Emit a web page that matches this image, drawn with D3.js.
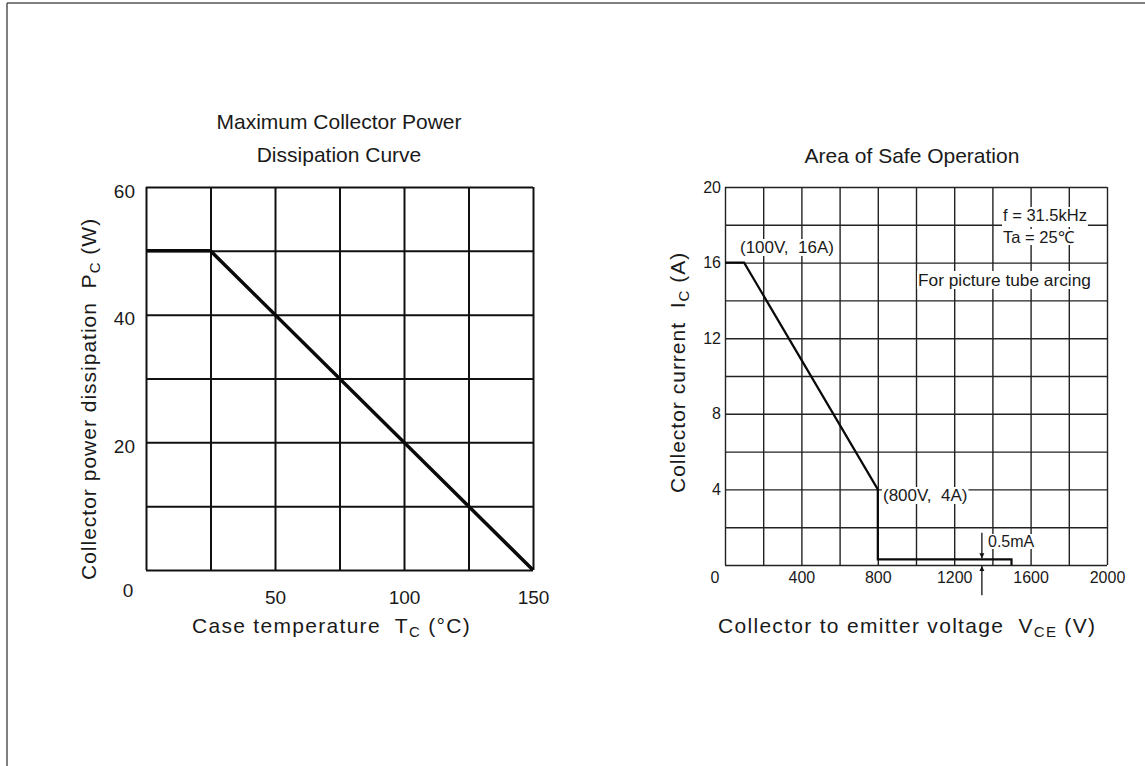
<!DOCTYPE html>
<html>
<head>
<meta charset="utf-8">
<script src="https://cdn.jsdelivr.net/npm/d3@7"></script>
<style>
  html, body { margin: 0; padding: 0; background: #fff; }
  svg { display: block; }
  text { fill: #1a1a1a; font-family: "Liberation Sans", Arial, sans-serif; white-space: pre; }
</style>
</head>
<body>
<svg id="chart" width="1145" height="766"></svg>
<script>
// ---------- data ----------
// Left chart: maximum collector power dissipation
const tempC = [0, 25, 150];          // case temperature (°C)
const powerW = [50, 50, 0];          // collector power dissipation (W)
const pcGridX = [0, 25, 50, 75, 100, 125, 150];
const pcGridY = [0, 10, 20, 30, 40, 50, 60];
const pcTickX = [50, 100, 150];
const pcTickY = [20, 40, 60];

// Right chart: area of safe operation
const vceV = [0, 100, 800, 800, 1500, 1500];   // collector-emitter voltage (V)
const icA  = [16, 16, 4, 0.3, 0.3, 0];          // collector current (A)
const soaGridX = [0, 200, 400, 600, 800, 1000, 1200, 1400, 1600, 1800, 2000];
const soaGridY = [0, 2, 4, 6, 8, 10, 12, 14, 16, 18, 20];
const soaTickX = [400, 800, 1200, 1600, 2000];
const soaTickY = [4, 8, 12, 16, 20];

const svg = d3.select("#chart");

// page frame (top and left edges of the scanned sheet)
svg.append("line").attr("x1", 7).attr("y1", 3).attr("x2", 1145).attr("y2", 3)
  .attr("stroke", "#555").attr("stroke-width", 1.5);
svg.append("line").attr("x1", 7).attr("y1", 3).attr("x2", 7).attr("y2", 766)
  .attr("stroke", "#555").attr("stroke-width", 1.5);

// ---------- helpers ----------
function labelWithBg(g, x, y, str, size, padBottom) {
  const grp = g.append("g");
  const rect = grp.append("rect").attr("fill", "#fff");
  const t = grp.append("text").attr("x", x).attr("y", y)
    .attr("font-size", size).text(str);
  const b = t.node().getBBox();
  const pb = padBottom || 0;
  rect.attr("x", b.x - 1).attr("y", b.y + 1).attr("width", b.width + 2).attr("height", b.height - 2 + pb);
  return t;
}

// ---------- left chart ----------
const xT = d3.scaleLinear().domain([0, 150]).range([146, 533]);
const yP = d3.scaleLinear().domain([0, 60]).range([570, 187]);
const gL = svg.append("g");

gL.append("g").attr("transform", `translate(0,${yP(0)})`)
  .call(d3.axisBottom(xT).tickValues(pcGridX).tickSize(-(yP(0) - yP(60))).tickFormat(""))
  .call(g => g.select(".domain").remove())
  .call(g => g.selectAll("line").attr("stroke", "#111").attr("stroke-width", 2));
gL.append("g").attr("transform", `translate(${xT(0)},0)`)
  .call(d3.axisLeft(yP).tickValues(pcGridY).tickSize(-(xT(150) - xT(0))).tickFormat(""))
  .call(g => g.select(".domain").remove())
  .call(g => g.selectAll("line").attr("stroke", "#111").attr("stroke-width", 2));

const pcFont = '"Liberation Sans Narrow", "Arial Narrow", "Liberation Sans", sans-serif';
gL.append("g").attr("transform", `translate(0,${yP(0)})`)
  .call(d3.axisBottom(xT).tickValues(pcTickX).tickSize(0).tickPadding(21))
  .call(g => g.select(".domain").remove())
  .call(g => g.selectAll("text").attr("font-size", 19).attr("font-family", pcFont).attr("fill", "#1a1a1a"));
gL.append("g").attr("transform", `translate(${xT(0)},0)`)
  .call(d3.axisLeft(yP).tickValues(pcTickY).tickSize(0).tickPadding(11))
  .call(g => g.select(".domain").remove())
  .call(g => g.selectAll("text").attr("font-size", 19).attr("font-family", pcFont).attr("fill", "#1a1a1a").attr("y", 4));
gL.append("text").attr("x", xT(0) - 18).attr("y", yP(0) + 27).attr("text-anchor", "middle")
  .attr("font-size", 19).attr("font-family", pcFont).text("0");

gL.append("path")
  .datum(tempC.map((t, i) => [t, powerW[i]]))
  .attr("d", d3.line().x(d => xT(d[0])).y(d => yP(d[1])))
  .attr("fill", "none").attr("stroke", "#0a0a0a").attr("stroke-width", 3.5).attr("stroke-linejoin", "round");

// titles
gL.append("text").attr("x", 339).attr("y", 129).attr("text-anchor", "middle").attr("font-size", 21)
  .text("Maximum Collector Power");
gL.append("text").attr("x", 339).attr("y", 162).attr("text-anchor", "middle").attr("font-size", 21)
  .text("Dissipation Curve");

// axis titles
const lx = gL.append("text").attr("x", 192).attr("y", 633).attr("font-size", 21).attr("letter-spacing", 1.3);
lx.append("tspan").text("Case temperature  T");
lx.append("tspan").attr("font-size", 15).attr("dy", 4).text("C");
lx.append("tspan").attr("dy", -4).text(" (°C)");

const ly = gL.append("text").attr("transform", "translate(96,580) rotate(-90)")
  .attr("font-size", 21).attr("letter-spacing", 1);
ly.append("tspan").text("Collector power dissipation  P");
ly.append("tspan").attr("font-size", 15).attr("dy", 4).text("C");
ly.append("tspan").attr("dy", -4).text(" (W)");

// ---------- right chart ----------
const xV = d3.scaleLinear().domain([0, 2000]).range([725, 1107]);
const yI = d3.scaleLinear().domain([0, 20]).range([565, 187]);
const gR = svg.append("g");

gR.append("g").attr("transform", `translate(0,${yI(0)})`)
  .call(d3.axisBottom(xV).tickValues(soaGridX).tickSize(-(yI(0) - yI(20))).tickFormat(""))
  .call(g => g.select(".domain").remove())
  .call(g => g.selectAll("line").attr("stroke", "#222").attr("stroke-width", 1.4));
gR.append("g").attr("transform", `translate(${xV(0)},0)`)
  .call(d3.axisLeft(yI).tickValues(soaGridY).tickSize(-(xV(2000) - xV(0))).tickFormat(""))
  .call(g => g.select(".domain").remove())
  .call(g => g.selectAll("line").attr("stroke", "#222").attr("stroke-width", 1.4));

gR.append("g").attr("transform", `translate(0,${yI(0)})`)
  .call(d3.axisBottom(xV).tickValues(soaTickX).tickSize(0).tickPadding(7).tickFormat(d3.format("d")))
  .call(g => g.select(".domain").remove())
  .call(g => g.selectAll("text").attr("font-size", 16).attr("font-family", "Liberation Sans, sans-serif").attr("fill", "#1a1a1a"));
gR.append("g").attr("transform", `translate(${xV(0)},0)`)
  .call(d3.axisLeft(yI).tickValues(soaTickY).tickSize(0).tickPadding(4).tickFormat(d3.format("d")))
  .call(g => g.select(".domain").remove())
  .call(g => g.selectAll("text").attr("font-size", 16).attr("font-family", "Liberation Sans, sans-serif").attr("fill", "#1a1a1a"));
gR.append("text").attr("x", xV(0) - 10).attr("y", yI(0) + 18).attr("text-anchor", "middle")
  .attr("font-size", 16).text("0");

// annotations with white backing
labelWithBg(gR, 740, 253, "(100V,  16A)", 17);
labelWithBg(gR, 883, 501, "(800V,  4A)", 17);
labelWithBg(gR, 1003, 221, "f = 31.5kHz", 16.5, 4);
labelWithBg(gR, 1003, 243, "Ta = 25℃", 16.5);
labelWithBg(gR, 918, 286, "For picture tube arcing", 17.3);
labelWithBg(gR, 988, 547, "0.5mA", 16);

// curve
gR.append("path")
  .datum(vceV.map((v, i) => [v, icA[i]]))
  .attr("d", d3.line().x(d => xV(d[0])).y(d => yI(d[1])))
  .attr("fill", "none").attr("stroke", "#0a0a0a").attr("stroke-width", 2.2).attr("stroke-linejoin", "miter");

// 0.5mA arrows
const defs = svg.append("defs");
defs.append("marker").attr("id", "arr").attr("viewBox", "0 0 10 10").attr("refX", 10).attr("refY", 5)
  .attr("markerWidth", 5).attr("markerHeight", 7).attr("orient", "auto").attr("markerUnits", "userSpaceOnUse")
  .append("path").attr("d", "M0,0 L10,5 L0,10 Z").attr("fill", "#111");
const arrowV = 1345;
gR.append("line").attr("x1", xV(arrowV)).attr("x2", xV(arrowV)).attr("y1", yI(1.7)).attr("y2", yI(0.3) - 1)
  .attr("stroke", "#111").attr("stroke-width", 1.3).attr("marker-end", "url(#arr)");
gR.append("line").attr("x1", xV(arrowV)).attr("x2", xV(arrowV)).attr("y1", yI(-1.6)).attr("y2", yI(0) + 1)
  .attr("stroke", "#111").attr("stroke-width", 1.3).attr("marker-end", "url(#arr)");

// titles
gR.append("text").attr("x", 912).attr("y", 163).attr("text-anchor", "middle").attr("font-size", 21)
  .text("Area of Safe Operation");

const rx = gR.append("text").attr("x", 718).attr("y", 633).attr("font-size", 21).attr("letter-spacing", 1.3);
rx.append("tspan").text("Collector to emitter voltage  V");
rx.append("tspan").attr("font-size", 15).attr("dy", 4).text("CE");
rx.append("tspan").attr("dy", -4).text(" (V)");

const ry = gR.append("text").attr("transform", "translate(685,493) rotate(-90)")
  .attr("font-size", 21).attr("letter-spacing", 1);
ry.append("tspan").text("Collector current  I");
ry.append("tspan").attr("font-size", 15).attr("dy", 4).text("C");
ry.append("tspan").attr("dy", -4).text(" (A)");
</script>
</body>
</html>
